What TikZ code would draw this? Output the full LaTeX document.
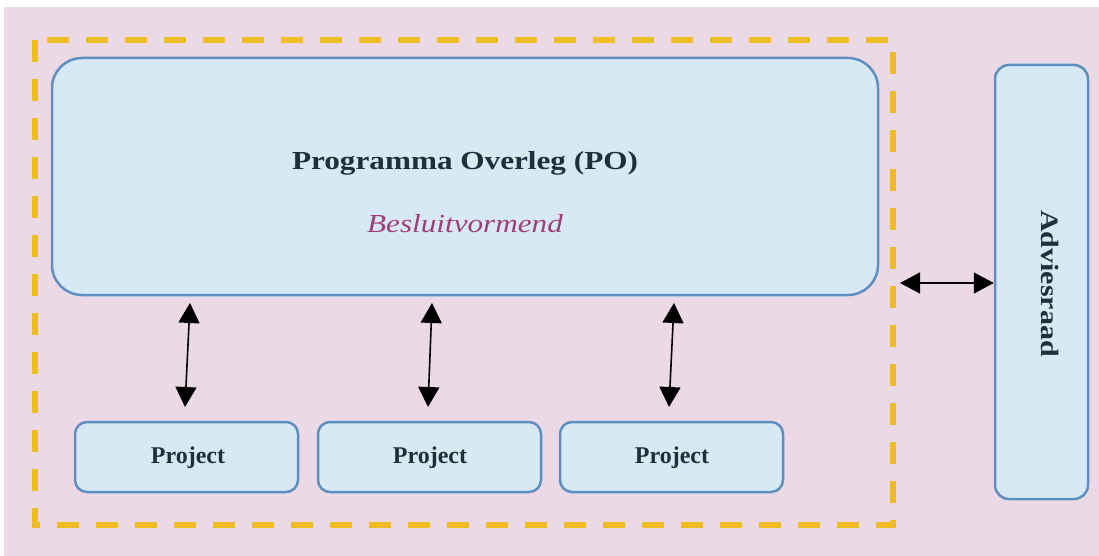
\documentclass[tikz,border=0pt]{standalone}
\usepackage{fontspec}
\setmainfont{Liberation Serif}
\newfontfamily\widefont[FakeStretch=1.2]{Liberation Serif}
\usetikzlibrary{arrows.meta}
\definecolor{bgpink}{HTML}{EBDAE6}
\definecolor{boxfill}{HTML}{D8E9F6}
\definecolor{boxline}{HTML}{5F8FC0}
\definecolor{dashyellow}{HTML}{F0BC26}
\definecolor{txtdark}{HTML}{1F2F3B}
\definecolor{txtmagenta}{HTML}{9E3F7C}
\tikzset{
  bluebox/.style={draw=boxline, line width=2.5pt, fill=boxfill, inner sep=0pt},
  mainbox/.style={bluebox, rounded corners=30pt, minimum width=826pt, minimum height=237pt},
  projbox/.style={bluebox, rounded corners=12pt, minimum width=223pt, minimum height=70pt},
  sidebox/.style={bluebox, rounded corners=14pt, minimum width=93pt, minimum height=434pt},
  projtext/.style={text=txtdark, anchor=base, font=\fontsize{24}{28}\selectfont\bfseries, inner sep=0pt},
  biarrow/.style={line width=1.6pt, black, {Triangle[length=20pt,width=21pt]}-{Triangle[length=20pt,width=21pt]}},
  grouprect/.style={draw=dashyellow, line width=5.5pt, dash pattern=on 22pt off 17pt}
}
\begin{document}
\begin{tikzpicture}[x=1pt,y=-1pt]
\useasboundingbox (0,0) rectangle (1099,556);
\fill[white] (0,0) rectangle (1099,556);
\fill[bgpink] (4,7) rectangle (1099,556);
\draw[grouprect] (35,40) rectangle (893,525);
\node[mainbox] (main) at (465,176.5) {};
\node[text=txtdark, anchor=base, inner sep=0pt, font=\widefont\fontsize{26}{30}\selectfont\bfseries] (title) at (465,169) {Programma Overleg (PO)};
\node[text=txtmagenta, anchor=base, inner sep=0pt, font=\widefont\fontsize{26}{30}\selectfont\itshape] (sub) at (465,232) {Besluitvormend};
\node[projbox] (p1) at (186.5,457) {};
\node[projbox] (p2) at (429.5,457) {};
\node[projbox] (p3) at (671.5,457) {};
\node[projtext] (t1) at (188,463) {Project};
\node[projtext] (t2) at (430,463) {Project};
\node[projtext] (t3) at (672,463) {Project};
\node[sidebox] (advies) at (1041.5,282) {};
\node[text=txtdark, rotate=-90, anchor=base, inner sep=0pt, font=\widefont\fontsize{25}{30}\selectfont\bfseries] (adtext) at (1041,283.5) {Adviesraad};
\coordinate (a1t) at (190,303);
\coordinate (a1b) at (185,407);
\coordinate (a2t) at (432,303);
\coordinate (a2b) at (428,407);
\coordinate (a3t) at (674,303);
\coordinate (a3b) at (669,407);
\coordinate (h1) at (900,283);
\draw[biarrow] (a1t) -- (a1b);
\draw[biarrow] (a2t) -- (a2b);
\draw[biarrow] (a3t) -- (a3b);
\draw[biarrow] (h1) -- (h1 -| advies.west);
\end{tikzpicture}
\end{document}
